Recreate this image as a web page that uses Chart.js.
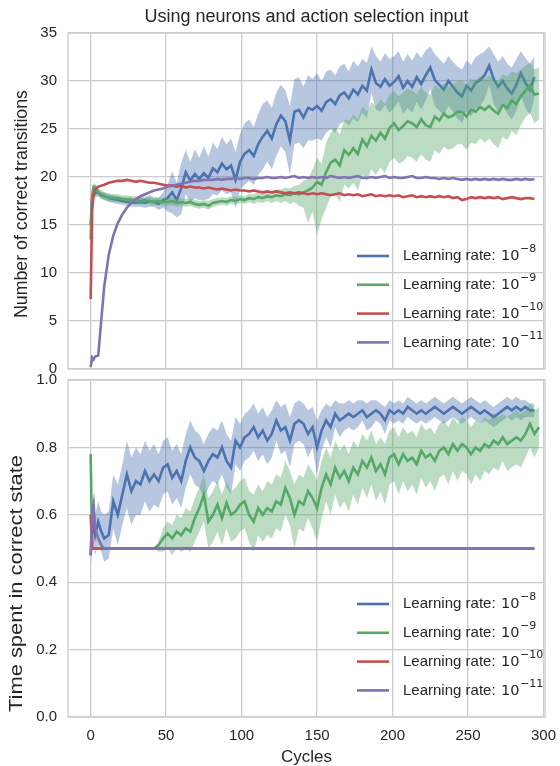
<!DOCTYPE html>
<html>
<head>
<meta charset="utf-8">
<title>Using neurons and action selection input</title>
<script src="https://cdn.jsdelivr.net/npm/chart.js@4.4.0/dist/chart.umd.min.js"></script>
<style>
  body { margin: 0; background: #ffffff; }
  #wrap { position: relative; width: 560px; height: 766px; overflow: hidden; }
  canvas { position: absolute; left: 0; }
</style>
</head>
<body>
<div id="wrap">
  <canvas id="transChart" width="560" height="385" style="top:0"></canvas>
  <canvas id="timeChart" width="560" height="401" style="top:365px"></canvas>
</div>
<script>
// Cycle positions (shared by every series)
const cycles = [
  0, 1, 2, 3, 5, 7, 9, 12, 15, 18,
  21, 24, 27, 30, 33, 36, 39, 42, 45, 48,
  51, 54, 57, 60, 63, 66, 69, 72, 75, 78,
  81, 84, 87, 90, 93, 96, 99, 102, 105, 108,
  111, 114, 117, 120, 123, 126, 129, 132, 135, 138,
  141, 144, 147, 150, 153, 156, 159, 162, 165, 168,
  171, 174, 177, 180, 183, 186, 189, 192, 195, 198,
  201, 204, 207, 210, 213, 216, 219, 222, 225, 228,
  231, 234, 237, 240, 243, 246, 249, 252, 255, 258,
  261, 264, 267, 270, 273, 276, 279, 282, 285, 288,
  291, 294, 297
];

const xTicks = [0, 50, 100, 150, 200, 250, 300];
const transTicks = [0, 5, 10, 15, 20, 25, 30, 35];
const timeTicks = [0, 0.2, 0.4, 0.6, 0.8, 1.0];
const rateExponents = [-8, -9, -10, -11];

// ---- Number of correct transitions ----
const transBlue = [
  15.0, 17.8, 18.2, 18.3, 18.4, 18.1, 18.0, 17.8, 17.7, 17.6,
  17.5, 17.4, 17.4, 17.3, 17.4, 17.3, 17.5, 17.4, 17.2, 17.6,
  17.8, 18.4, 17.6, 18.8, 20.5, 19.6, 20.3, 19.8, 20.4, 19.9,
  20.9, 20.5, 21.4, 20.8, 21.2, 19.7, 21.6, 22.4, 22.8, 22.2,
  23.4, 24.2, 24.8, 24.0, 25.5, 26.4, 25.8, 23.8, 26.8, 27.0,
  26.2, 27.2, 27.0, 27.4, 26.9, 27.8, 28.1, 27.6, 28.5, 28.8,
  28.2, 29.1, 28.6, 29.5, 29.0, 31.2, 29.8, 29.4, 30.2, 29.5,
  29.9, 30.5, 29.3, 30.0, 29.4, 30.4, 29.7, 30.6, 31.4, 30.1,
  29.6, 29.1, 30.0, 29.4, 28.8, 28.4, 29.5, 29.0, 29.8, 30.1,
  30.6, 31.6, 30.2, 29.4, 30.0, 29.2, 28.7, 29.6, 30.8, 29.8,
  29.1, 30.4, null
];
const transBlueHi = [
  15.3, 18.2, 18.6, 18.7, 18.8, 18.5, 18.4, 18.2, 18.1, 18.0,
  17.9, 17.8, 17.9, 17.7, 17.9, 17.8, 18.1, 17.9, 17.8, 18.4,
  19.2, 20.6, 19.4, 21.5, 22.8, 21.6, 22.9, 22.0, 23.2, 22.1,
  23.6, 22.9, 24.2, 23.4, 24.0, 22.6, 24.5, 25.6, 26.0, 25.2,
  26.6, 27.6, 28.0, 27.2, 28.8, 29.6, 29.0, 27.4, 30.2, 30.4,
  29.4, 30.6, 30.2, 30.8, 30.0, 31.0, 31.2, 30.6, 31.5, 31.8,
  31.0, 32.1, 31.5, 32.3, 31.9, 33.6, 32.6, 32.0, 32.9, 32.3,
  32.6, 33.1, 32.0, 32.8, 32.1, 33.0, 32.4, 33.2, 33.6, 32.8,
  32.3, 31.8, 32.6, 32.0, 31.5, 31.2, 32.2, 31.7, 32.5, 32.8,
  33.1, 33.6, 32.8, 32.0, 32.6, 31.8, 31.4, 32.3, 33.1, 32.4,
  31.8, 32.6, null
];
const transBlueLo = [
  14.7, 17.4, 17.8, 17.9, 18.0, 17.7, 17.6, 17.4, 17.3, 17.2,
  17.1, 17.0, 16.9, 16.9, 16.9, 16.8, 16.9, 16.9, 16.6, 16.8,
  16.4, 16.2, 15.8, 16.1, 18.2, 17.4, 17.8, 17.6, 17.6, 17.7,
  18.2, 18.1, 18.6, 18.2, 18.4, 16.8, 18.7, 19.2, 19.6, 19.2,
  20.2, 20.8, 21.6, 20.8, 22.2, 23.2, 22.6, 20.2, 23.4, 23.6,
  23.0, 23.8, 23.8, 24.0, 23.8, 24.6, 25.0, 24.6, 25.5, 25.8,
  25.4, 26.1, 25.7, 26.7, 26.1, 28.8, 27.0, 26.8, 27.5, 26.7,
  27.2, 27.9, 26.6, 27.2, 26.7, 27.8, 27.0, 28.0, 29.2, 27.4,
  26.9, 26.4, 27.4, 26.8, 26.1, 25.6, 26.8, 26.3, 27.1, 27.4,
  28.1, 29.6, 27.6, 26.8, 27.4, 26.6, 26.0, 26.9, 28.5, 27.2,
  26.4, 28.2, null
];
const transGreen = [
  13.5, 18.0, 19.0, 18.9, 18.4, 18.2, 18.0, 17.9, 17.8, 17.8,
  17.7, 17.7, 17.6, 17.6, 17.5, 17.6, 17.5, 17.4, 17.5, 17.4,
  17.4, 17.5, 17.3, 17.4, 17.3, 17.4, 17.2, 17.1, 17.2, 17.0,
  17.3, 17.4, 17.5, 17.4, 17.6, 17.5, 17.7, 17.6, 17.8, 17.7,
  17.9, 17.8, 18.0, 17.9, 18.1, 18.0, 18.2, 18.1, 18.3, 18.2,
  18.4, 18.6, 18.9, 19.5, 19.2, 20.5, 21.5, 21.8, 21.2, 22.8,
  22.3, 23.0, 22.4, 23.9, 23.2, 24.3, 23.8, 24.6, 24.0, 25.1,
  25.6, 24.9, 25.3, 25.8, 25.6, 25.2, 26.0, 25.4, 25.2, 26.3,
  25.9, 26.6, 26.2, 26.4, 26.8, 26.8, 26.3, 27.0, 26.8, 27.3,
  27.0, 27.4, 26.9, 26.6, 27.5, 27.2, 28.0, 27.6, 28.4, 29.0,
  29.5, 28.6, 28.7
];
const transGreenHi = [
  13.8, 18.4, 19.4, 19.3, 18.8, 18.6, 18.4, 18.3, 18.2, 18.2,
  18.1, 18.1, 18.0, 18.0, 17.9, 18.0, 17.9, 17.8, 17.9, 17.8,
  17.8, 17.9, 17.7, 17.8, 17.7, 17.8, 17.6, 17.5, 17.6, 17.5,
  17.7, 17.8, 17.9, 17.8, 18.0, 17.9, 18.1, 18.0, 18.2, 18.2,
  18.4, 18.3, 18.5, 18.5, 18.7, 18.7, 18.9, 18.8, 19.1, 19.2,
  19.6, 19.8, 20.8, 22.0, 21.4, 23.6, 24.6, 25.2, 24.4, 26.0,
  25.8, 26.6, 26.0, 27.4, 26.8, 27.8, 27.4, 28.1, 27.6, 28.6,
  29.0, 28.4, 28.8, 29.2, 29.0, 28.6, 29.4, 28.8, 28.6, 29.6,
  29.2, 29.8, 29.4, 29.6, 30.0, 30.0, 29.6, 30.2, 30.1, 30.5,
  30.2, 30.6, 30.2, 30.0, 30.7, 30.5, 31.0, 30.8, 31.2, 31.6,
  31.9, 31.2, 31.4
];
const transGreenLo = [
  13.2, 17.6, 18.6, 18.5, 18.0, 17.8, 17.6, 17.5, 17.4, 17.4,
  17.3, 17.3, 17.2, 17.2, 17.1, 17.2, 17.1, 17.0, 17.1, 17.0,
  17.0, 17.1, 16.9, 17.0, 16.9, 17.0, 16.8, 16.7, 16.8, 16.6,
  16.9, 17.0, 17.1, 17.0, 17.2, 17.1, 17.3, 17.2, 17.4, 17.2,
  17.4, 17.3, 17.5, 17.3, 17.5, 17.3, 17.5, 17.2, 17.4, 17.0,
  16.8, 15.2, 16.4, 14.0, 15.6, 16.8, 18.0, 18.2, 17.4, 19.2,
  18.8, 19.4, 18.6, 20.2, 19.6, 20.8, 20.2, 21.0, 20.4, 21.6,
  22.0, 21.4, 21.6, 22.2, 22.0, 21.6, 22.4, 21.8, 21.6, 22.8,
  22.4, 23.2, 22.8, 23.0, 23.4, 23.4, 22.8, 23.6, 23.4, 24.0,
  23.6, 24.0, 23.4, 23.0, 24.2, 23.8, 24.8, 24.4, 25.4, 26.2,
  26.8, 25.6, 26.0
];
const transRed = [
  7.3, 16.5, 18.2, 18.7, 19.0, 19.1, 19.2, 19.4, 19.5, 19.6,
  19.6, 19.7, 19.6, 19.5, 19.6, 19.5, 19.4, 19.4, 19.3, 19.2,
  19.1, 19.1, 19.0, 19.1, 18.9, 19.0, 18.9, 18.9, 18.8, 18.9,
  18.8, 18.7, 18.8, 18.7, 18.6, 18.7, 18.6, 18.6, 18.5, 18.6,
  18.5, 18.4, 18.5, 18.4, 18.5, 18.4, 18.3, 18.4, 18.3, 18.4,
  18.3, 18.2, 18.3, 18.2, 18.3, 18.2, 18.1, 18.2, 18.3, 18.1,
  18.2, 18.1, 18.2, 18.0, 18.1, 18.2, 18.0, 18.1, 18.0, 18.1,
  18.0, 18.1, 17.9, 18.0, 18.1, 17.9, 18.0, 17.9, 18.0, 17.9,
  18.0, 17.9, 18.0, 17.8, 17.9, 17.6, 17.7, 17.9, 17.8, 17.9,
  17.8, 17.9, 17.8, 17.9, 17.7, 17.8, 17.9, 17.8, 17.7, 17.8,
  17.8, 17.7, null
];
const transPurple = [
  0.2, 1.2, 1.0, 1.3, 1.4, 5.0, 8.6, 11.9, 13.9, 15.2,
  16.1, 16.8, 17.3, 17.7, 18.0, 18.2, 18.4, 18.6, 18.7, 18.8,
  19.0, 19.1, 19.2, 19.3, 19.4, 19.5, 19.6, 19.6, 19.7, 19.7,
  19.7, 19.8, 19.7, 19.8, 19.8, 19.9, 19.8, 19.9, 19.9, 19.8,
  19.9, 19.9, 20.0, 19.9, 19.9, 20.0, 19.9, 20.0, 20.1, 19.9,
  20.0, 19.9, 20.0, 19.9, 20.0, 19.9, 20.1, 20.0, 19.9, 20.0,
  19.9, 20.0, 20.1, 19.9, 19.9, 20.0, 19.9, 20.0, 20.1, 19.9,
  20.0, 19.9, 19.9, 20.0, 20.1, 19.9, 19.9, 20.0, 19.9, 19.9,
  19.8, 19.9, 19.8, 19.9, 19.8, 19.7, 19.8, 19.7, 19.8, 19.7,
  19.8, 19.7, 19.8, 19.7, 19.8, 19.7, 19.7, 19.8, 19.7, 19.8,
  19.7, 19.8, null
];

// ---- Time spent in correct state ----
const timeBlue = [
  0.48, 0.55, 0.57, 0.54, 0.58, 0.55, 0.53, 0.54, 0.64, 0.60,
  0.66, 0.72, 0.67, 0.70, 0.69, 0.73, 0.70, 0.72, 0.70, 0.74,
  0.75, 0.71, 0.73, 0.70, 0.76, 0.80, 0.77, 0.76, 0.73, 0.76,
  0.78, 0.77, 0.80, 0.76, 0.74, 0.82, 0.80, 0.83, 0.84, 0.86,
  0.83, 0.85, 0.82, 0.84, 0.88, 0.85, 0.86, 0.82, 0.87, 0.88,
  0.87, 0.84, 0.86, 0.80, 0.85, 0.88, 0.86, 0.90, 0.88, 0.89,
  0.90, 0.89, 0.90, 0.91, 0.89, 0.90, 0.91, 0.90, 0.88, 0.91,
  0.90, 0.91, 0.90, 0.92, 0.91, 0.90, 0.91, 0.90, 0.91, 0.92,
  0.91, 0.90, 0.91, 0.92, 0.91, 0.90, 0.91, 0.92, 0.91, 0.90,
  0.91, 0.90, 0.89, 0.90, 0.91, 0.92, 0.91, 0.92, 0.91, 0.92,
  0.91, 0.91, null
];
const timeBlueHi = [
  0.52, 0.60, 0.62, 0.60, 0.64, 0.61, 0.60, 0.61, 0.72, 0.69,
  0.75, 0.82, 0.77, 0.80, 0.78, 0.82, 0.79, 0.81, 0.78, 0.82,
  0.83, 0.79, 0.81, 0.78, 0.84, 0.88, 0.85, 0.84, 0.81, 0.84,
  0.86, 0.85, 0.88, 0.84, 0.82, 0.89, 0.87, 0.90, 0.91, 0.93,
  0.90, 0.92, 0.89, 0.91, 0.94, 0.92, 0.93, 0.89, 0.93, 0.94,
  0.93, 0.91, 0.92, 0.88, 0.91, 0.93, 0.92, 0.94, 0.93, 0.93,
  0.94, 0.93, 0.94, 0.94, 0.93, 0.94, 0.94, 0.93, 0.92, 0.94,
  0.93, 0.94, 0.93, 0.95, 0.94, 0.93, 0.94, 0.93, 0.94, 0.95,
  0.94, 0.93, 0.94, 0.95, 0.94, 0.93, 0.94, 0.95, 0.94, 0.93,
  0.94, 0.93, 0.92, 0.93, 0.94, 0.95, 0.94, 0.95, 0.94, 0.94,
  0.93, 0.93, null
];
const timeBlueLo = [
  0.44, 0.50, 0.51, 0.48, 0.51, 0.49, 0.46, 0.47, 0.56, 0.51,
  0.57, 0.62, 0.57, 0.60, 0.60, 0.64, 0.61, 0.63, 0.62, 0.66,
  0.67, 0.63, 0.65, 0.62, 0.68, 0.72, 0.69, 0.68, 0.65, 0.68,
  0.70, 0.69, 0.72, 0.68, 0.66, 0.75, 0.73, 0.76, 0.77, 0.79,
  0.76, 0.78, 0.75, 0.77, 0.82, 0.78, 0.79, 0.74, 0.81, 0.82,
  0.81, 0.77, 0.80, 0.72, 0.79, 0.83, 0.80, 0.86, 0.83, 0.85,
  0.86, 0.85, 0.86, 0.88, 0.85, 0.86, 0.88, 0.87, 0.84, 0.88,
  0.87, 0.88, 0.87, 0.89, 0.88, 0.87, 0.88, 0.87, 0.88, 0.89,
  0.88, 0.87, 0.88, 0.89, 0.88, 0.87, 0.88, 0.89, 0.88, 0.87,
  0.88, 0.87, 0.86, 0.87, 0.88, 0.89, 0.88, 0.89, 0.88, 0.89,
  0.89, 0.89, null
];
const timeGreen = [
  0.78, 0.50, 0.50, 0.50, 0.50, 0.50, 0.50, 0.50, 0.50, 0.50,
  0.50, 0.50, 0.50, 0.50, 0.50, 0.50, 0.50, 0.50, 0.51, 0.53,
  0.545, 0.53, 0.55, 0.54, 0.56, 0.55, 0.59, 0.62, 0.66, 0.58,
  0.60, 0.63, 0.59, 0.635, 0.60, 0.61, 0.63, 0.64, 0.60, 0.58,
  0.62, 0.60, 0.62, 0.61, 0.64, 0.63, 0.68, 0.65, 0.60, 0.64,
  0.63, 0.67, 0.65, 0.62, 0.68, 0.72, 0.69, 0.74, 0.71, 0.73,
  0.70, 0.74, 0.72, 0.76, 0.74, 0.77, 0.73, 0.75, 0.72, 0.77,
  0.78, 0.75, 0.78, 0.76, 0.77, 0.75, 0.79, 0.77, 0.78, 0.76,
  0.79, 0.80, 0.78, 0.81, 0.79, 0.81, 0.80, 0.78, 0.80, 0.79,
  0.81, 0.80, 0.82, 0.81, 0.83, 0.81, 0.82, 0.83, 0.82, 0.84,
  0.87, 0.84, 0.86
];
const timeGreenHi = [
  0.78, 0.50, 0.50, 0.50, 0.50, 0.50, 0.50, 0.50, 0.50, 0.50,
  0.50, 0.50, 0.50, 0.50, 0.50, 0.50, 0.50, 0.50, 0.52, 0.56,
  0.58, 0.57, 0.60, 0.59, 0.62, 0.61, 0.65, 0.68, 0.72, 0.65,
  0.67, 0.70, 0.66, 0.70, 0.67, 0.68, 0.70, 0.71, 0.67, 0.66,
  0.69, 0.67, 0.70, 0.69, 0.72, 0.71, 0.76, 0.73, 0.69, 0.72,
  0.71, 0.75, 0.73, 0.70, 0.76, 0.80, 0.77, 0.82, 0.79, 0.81,
  0.78, 0.82, 0.80, 0.84, 0.82, 0.85, 0.81, 0.83, 0.81, 0.85,
  0.86, 0.83, 0.86, 0.84, 0.85, 0.83, 0.87, 0.85, 0.86, 0.84,
  0.87, 0.88, 0.86, 0.89, 0.87, 0.89, 0.88, 0.86, 0.88, 0.87,
  0.89, 0.88, 0.90, 0.89, 0.90, 0.89, 0.90, 0.91, 0.90, 0.91,
  0.93, 0.91, 0.92
];
const timeGreenLo = [
  0.78, 0.50, 0.50, 0.50, 0.50, 0.50, 0.50, 0.50, 0.50, 0.50,
  0.50, 0.50, 0.50, 0.50, 0.50, 0.50, 0.50, 0.50, 0.49, 0.49,
  0.50, 0.48, 0.50, 0.49, 0.50, 0.49, 0.52, 0.55, 0.58, 0.50,
  0.52, 0.55, 0.51, 0.56, 0.52, 0.53, 0.55, 0.56, 0.52, 0.49,
  0.54, 0.52, 0.54, 0.53, 0.56, 0.55, 0.60, 0.57, 0.50, 0.56,
  0.55, 0.59, 0.56, 0.52, 0.59, 0.64, 0.60, 0.66, 0.62, 0.64,
  0.61, 0.66, 0.63, 0.68, 0.65, 0.69, 0.64, 0.67, 0.63, 0.69,
  0.70, 0.66, 0.70, 0.67, 0.69, 0.66, 0.71, 0.68, 0.70, 0.67,
  0.71, 0.72, 0.69, 0.73, 0.70, 0.73, 0.72, 0.69, 0.72, 0.70,
  0.73, 0.72, 0.74, 0.73, 0.76, 0.73, 0.74, 0.75, 0.74, 0.77,
  0.80, 0.77, 0.80
];
const timeRed = [
  0.60, 0.50, 0.50, 0.50, 0.50, 0.50, 0.50, 0.50, 0.50, 0.50,
  0.50, 0.50, 0.50, 0.50, 0.50, 0.50, 0.50, 0.50, 0.50, 0.50,
  0.50, 0.50, 0.50, 0.50, 0.50, 0.50, 0.50, 0.50, 0.50, 0.50,
  0.50, 0.50, 0.50, 0.50, 0.50, 0.50, 0.50, 0.50, 0.50, 0.50,
  0.50, 0.50, 0.50, 0.50, 0.50, 0.50, 0.50, 0.50, 0.50, 0.50,
  0.50, 0.50, 0.50, 0.50, 0.50, 0.50, 0.50, 0.50, 0.50, 0.50,
  0.50, 0.50, 0.50, 0.50, 0.50, 0.50, 0.50, 0.50, 0.50, 0.50,
  0.50, 0.50, 0.50, 0.50, 0.50, 0.50, 0.50, 0.50, 0.50, 0.50,
  0.50, 0.50, 0.50, 0.50, 0.50, 0.50, 0.50, 0.50, 0.50, 0.50,
  0.50, 0.50, 0.50, 0.50, 0.50, 0.50, 0.50, 0.50, 0.50, 0.50,
  0.50, 0.50, null
];
const timePurple = [
  0.48, 0.60, 0.63, 0.56, 0.53, 0.51, 0.50, 0.50, 0.50, 0.50,
  0.50, 0.50, 0.50, 0.50, 0.50, 0.50, 0.50, 0.50, 0.50, 0.50,
  0.50, 0.50, 0.50, 0.50, 0.50, 0.50, 0.50, 0.50, 0.50, 0.50,
  0.50, 0.50, 0.50, 0.50, 0.50, 0.50, 0.50, 0.50, 0.50, 0.50,
  0.50, 0.50, 0.50, 0.50, 0.50, 0.50, 0.50, 0.50, 0.50, 0.50,
  0.50, 0.50, 0.50, 0.50, 0.50, 0.50, 0.50, 0.50, 0.50, 0.50,
  0.50, 0.50, 0.50, 0.50, 0.50, 0.50, 0.50, 0.50, 0.50, 0.50,
  0.50, 0.50, 0.50, 0.50, 0.50, 0.50, 0.50, 0.50, 0.50, 0.50,
  0.50, 0.50, 0.50, 0.50, 0.50, 0.50, 0.50, 0.50, 0.50, 0.50,
  0.50, 0.50, 0.50, 0.50, 0.50, 0.50, 0.50, 0.50, 0.50, 0.50,
  0.50, 0.50, null
];

// seaborn "deep" colours
const COLORS = {
  blue: '#4C72B0',
  green: '#55A868',
  red: '#C44E52',
  purple: '#8172B2'
};
const BANDS = {
  blue: 'rgba(76, 114, 176, 0.4)',
  green: 'rgba(85, 168, 104, 0.4)'
};
const FONT = "'Liberation Sans', Arial, Helvetica, sans-serif";
const TEXT = '#262626';
const GRID = '#cccccc';

Chart.defaults.font.family = FONT;
Chart.defaults.color = TEXT;

function points(values) {
  return cycles.map((c, i) => ({ x: c, y: values[i] }));
}

// groups drawn in order blue, green, red, purple -> later ones on top
function buildDatasets(groups) {
  const datasets = [];
  groups.forEach((g, gi) => {
    const base = 40 - gi * 10;
    if (g.lo) {
      const loIndex = datasets.length;
      datasets.push({
        data: points(g.lo), borderWidth: 0, pointRadius: 0, fill: false, order: base
      });
      datasets.push({
        data: points(g.hi), borderWidth: 0, pointRadius: 0,
        backgroundColor: g.band, fill: loIndex, order: base
      });
    }
    datasets.push({
      data: points(g.values), borderColor: g.color, borderWidth: 2.6,
      pointRadius: 0, fill: false, order: base - 1, isMain: true
    });
  });
  return datasets;
}

// light grey frame around the plot area
const framePlugin = {
  id: 'frame',
  beforeDatasetsDraw(chart) {
    const { ctx, chartArea: a } = chart;
    ctx.save();
    ctx.strokeStyle = GRID;
    ctx.lineWidth = 1.3;
    ctx.strokeRect(a.left, a.top, a.right - a.left, a.bottom - a.top);
    ctx.restore();
  }
};

// legend in the lower right with superscript exponents
const rateLegendPlugin = {
  id: 'rateLegend',
  afterDraw(chart) {
    const { ctx, chartArea: a } = chart;
    const colors = chart.data.datasets.filter(d => d.isMain).map(d => d.borderColor);
    ctx.save();
    colors.forEach((color, i) => {
      const y = a.bottom - 113 + i * 28.8;
      ctx.strokeStyle = color;
      ctx.lineWidth = 2.6;
      ctx.beginPath();
      ctx.moveTo(a.right - 188, y);
      ctx.lineTo(a.right - 156, y);
      ctx.stroke();

      ctx.fillStyle = TEXT;
      ctx.textAlign = 'left';
      ctx.textBaseline = 'middle';
      let x = a.right - 142;
      const prefix = 'Learning rate:';
      ctx.font = '15px ' + FONT;
      ctx.fillText(prefix, x, y);
      x += ctx.measureText(prefix).width + 5.5;
      ctx.font = '14.5px "DejaVu Sans"';
      ctx.fillText('10', x, y + 0.5);
      x += ctx.measureText('10').width + 0.5;
      ctx.font = '11px "DejaVu Sans"';
      ctx.fillText('\u2212' + Math.abs(rateExponents[i]), x, y - 6.5);
    });
    ctx.restore();
  }
};

// y-axis title drawn by hand so its length can follow the reference
const yTitlePlugin = {
  id: 'yTitle',
  afterDraw(chart, args, opts) {
    const { ctx, chartArea: a } = chart;
    ctx.save();
    ctx.font = opts.size + 'px ' + FONT;
    ctx.fillStyle = TEXT;
    ctx.textAlign = 'center';
    ctx.textBaseline = 'middle';
    const w = ctx.measureText(opts.text).width;
    ctx.translate(opts.x, (a.top + a.bottom) / 2 + opts.shift);
    ctx.rotate(-Math.PI / 2);
    ctx.scale(opts.length / w, 1);
    ctx.fillText(opts.text, 0, 0);
    ctx.restore();
  }
};

const titlePlugin = {
  id: 'topTitle',
  afterDraw(chart) {
    const { ctx, chartArea: a } = chart;
    ctx.save();
    ctx.fillStyle = TEXT;
    ctx.font = '18px ' + FONT;
    ctx.textAlign = 'center';
    ctx.textBaseline = 'middle';
    ctx.fillText('Using neurons and action selection input', (a.left + a.right) / 2, 17);
    ctx.restore();
  }
};

function xScale(showLabels, height) {
  return {
    type: 'linear', min: -15, max: 301,
    afterBuildTicks: s => { s.ticks = xTicks.map(v => ({ value: v })); },
    afterFit: s => {
      s.height = height;
      s.paddingLeft = 0;
      s.paddingRight = 0;
    },
    grid: { color: GRID, lineWidth: 1.3, drawTicks: false },
    border: { display: false },
    ticks: { display: showLabels, padding: 10, font: { size: 15 }, maxRotation: 0 },
    title: {
      display: showLabels, text: 'Cycles',
      font: { size: 17 }, padding: { top: 0, bottom: -2 }
    }
  };
}

function yScale(min, max, tickValues, fmt) {
  return {
    type: 'linear', min: min, max: max,
    afterBuildTicks: s => { s.ticks = tickValues.map(v => ({ value: v })); },
    afterFit: s => {
      s.width = 68;
      s.paddingTop = 0;
      s.paddingBottom = 0;
    },
    grid: { color: GRID, lineWidth: 1.3, drawTicks: false },
    border: { display: false },
    ticks: { padding: 11, font: { size: 15 }, callback: fmt }
  };
}

const basePlugins = { legend: { display: false }, tooltip: { enabled: false } };

// Number of correct transitions
new Chart(document.getElementById('transChart'), {
  type: 'line',
  data: {
    datasets: buildDatasets([
      { values: transBlue, lo: transBlueLo, hi: transBlueHi, color: COLORS.blue, band: BANDS.blue },
      { values: transGreen, lo: transGreenLo, hi: transGreenHi, color: COLORS.green, band: BANDS.green },
      { values: transRed, color: COLORS.red },
      { values: transPurple, color: COLORS.purple }
    ])
  },
  options: {
    responsive: false,
    animation: false,
    events: [],
    elements: { line: { tension: 0 } },
    layout: { padding: { top: 33, right: 15, left: 0, bottom: 0 } },
    plugins: {
      ...basePlugins,
      yTitle: { text: 'Number of correct transitions', size: 17.5, x: 22, shift: 3, length: 228 }
    },
    scales: {
      x: xScale(false, 16),
      y: yScale(0, 35, transTicks, v => String(v))
    }
  },
  plugins: [framePlugin, rateLegendPlugin, titlePlugin, yTitlePlugin]
});

// Time spent in correct state
new Chart(document.getElementById('timeChart'), {
  type: 'line',
  data: {
    datasets: buildDatasets([
      { values: timeBlue, lo: timeBlueLo, hi: timeBlueHi, color: COLORS.blue, band: BANDS.blue },
      { values: timeGreen, lo: timeGreenLo, hi: timeGreenHi, color: COLORS.green, band: BANDS.green },
      { values: timeRed, color: COLORS.red },
      { values: timePurple, color: COLORS.purple }
    ])
  },
  options: {
    responsive: false,
    animation: false,
    events: [],
    elements: { line: { tension: 0 } },
    layout: { padding: { top: 15, right: 15, left: 0, bottom: 0 } },
    plugins: {
      ...basePlugins,
      yTitle: { text: 'Time spent in correct state', size: 17.5, x: 17.5, shift: 35, length: 257 }
    },
    scales: {
      x: xScale(true, 49),
      y: yScale(0, 1, timeTicks, v => v.toFixed(1))
    }
  },
  plugins: [framePlugin, rateLegendPlugin, yTitlePlugin]
});
</script>
</body>
</html>
